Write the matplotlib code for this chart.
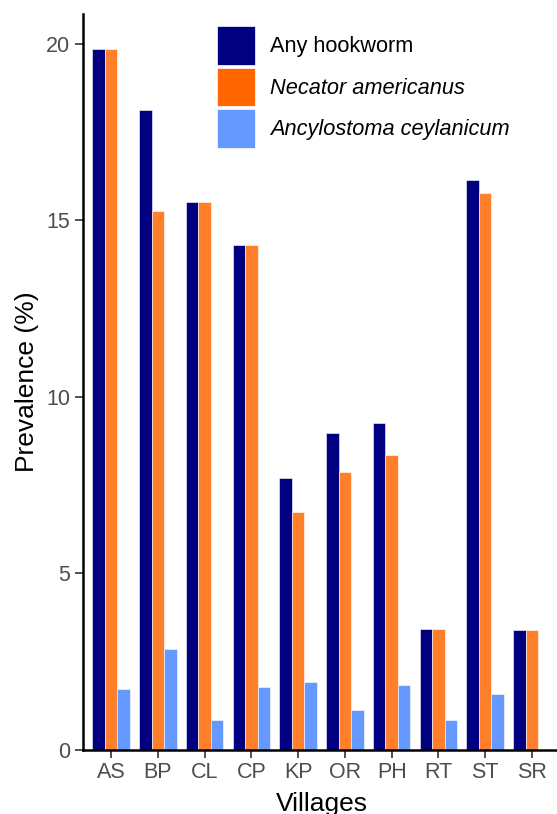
"""Hookworm prevalence by village, grouped bar chart."""
import matplotlib
matplotlib.use("Agg")
import matplotlib.pyplot as plt
from matplotlib.patches import Patch
import numpy as np

plt.rcParams["font.family"] = ["Liberation Sans", "DejaVu Sans"]

villages = ["AS", "BP", "CL", "CP", "KP", "OR", "PH", "RT", "ST", "SR"]
any_hookworm = [19.85, 18.11, 15.53, 14.30, 7.70, 8.99, 9.27, 3.42, 16.15, 3.39]
necator = [19.85, 15.26, 15.53, 14.30, 6.74, 7.87, 8.34, 3.42, 15.77, 3.39]
ancylostoma = [1.73, 2.85, 0.85, 1.78, 1.92, 1.12, 1.85, 0.85, 1.58, 0.0]

series_labels = ["Any hookworm", "Necator americanus", "Ancylostoma ceylanicum"]
bar_colors = ["#000080", "#FF7F2A", "#6699FF"]
key_colors = ["#000080", "#FF6600", "#6699FF"]

W, H = 557, 814
fig = plt.figure(figsize=(W / 100, H / 100), dpi=100)
ax = fig.add_axes([83 / W, 1 - 750 / H, (560 - 83) / W, (750 - 14) / H])

x = np.arange(1, len(villages) + 1)
width = 0.8 / 3
for i, vals in enumerate([any_hookworm, necator, ancylostoma]):
    ax.bar(x + (i - 1) * width, vals, width, color=bar_colors[i],
           edgecolor="white", linewidth=0.4)

ax.set_xlim(0.4, len(villages) + 0.6)
ax.set_ylim(0, 20.84)
ax.set_xticks(x)
ax.set_xticklabels(villages)
ax.set_yticks([0, 5, 10, 15, 20])
ax.tick_params(axis="both", colors="#333333", labelcolor="#4D4D4D",
               labelsize=15.5, length=6, width=1.2, pad=3)
for side in ["top", "right"]:
    ax.spines[side].set_visible(False)
for side in ["left", "bottom"]:
    ax.spines[side].set_linewidth(1.8)
    ax.spines[side].set_color("black")

ax.set_ylabel("Prevalence (%)", fontsize=19, labelpad=5)
ax.set_xlabel("Villages", fontsize=19, labelpad=6)

handles = [Patch(facecolor=c, edgecolor="white", linewidth=0.5) for c in key_colors]
leg = fig.legend(handles, series_labels, loc="upper left",
                 bbox_to_anchor=(216.7 / W, 1 - 26 / H), frameon=False,
                 fontsize=15.7, handlelength=1.75, handleheight=2.34,
                 labelspacing=0.14, handletextpad=0.68, borderpad=0,
                 borderaxespad=0)
for t in leg.get_texts()[1:]:
    t.set_style("italic")

fig.savefig("out.png", dpi=100)
